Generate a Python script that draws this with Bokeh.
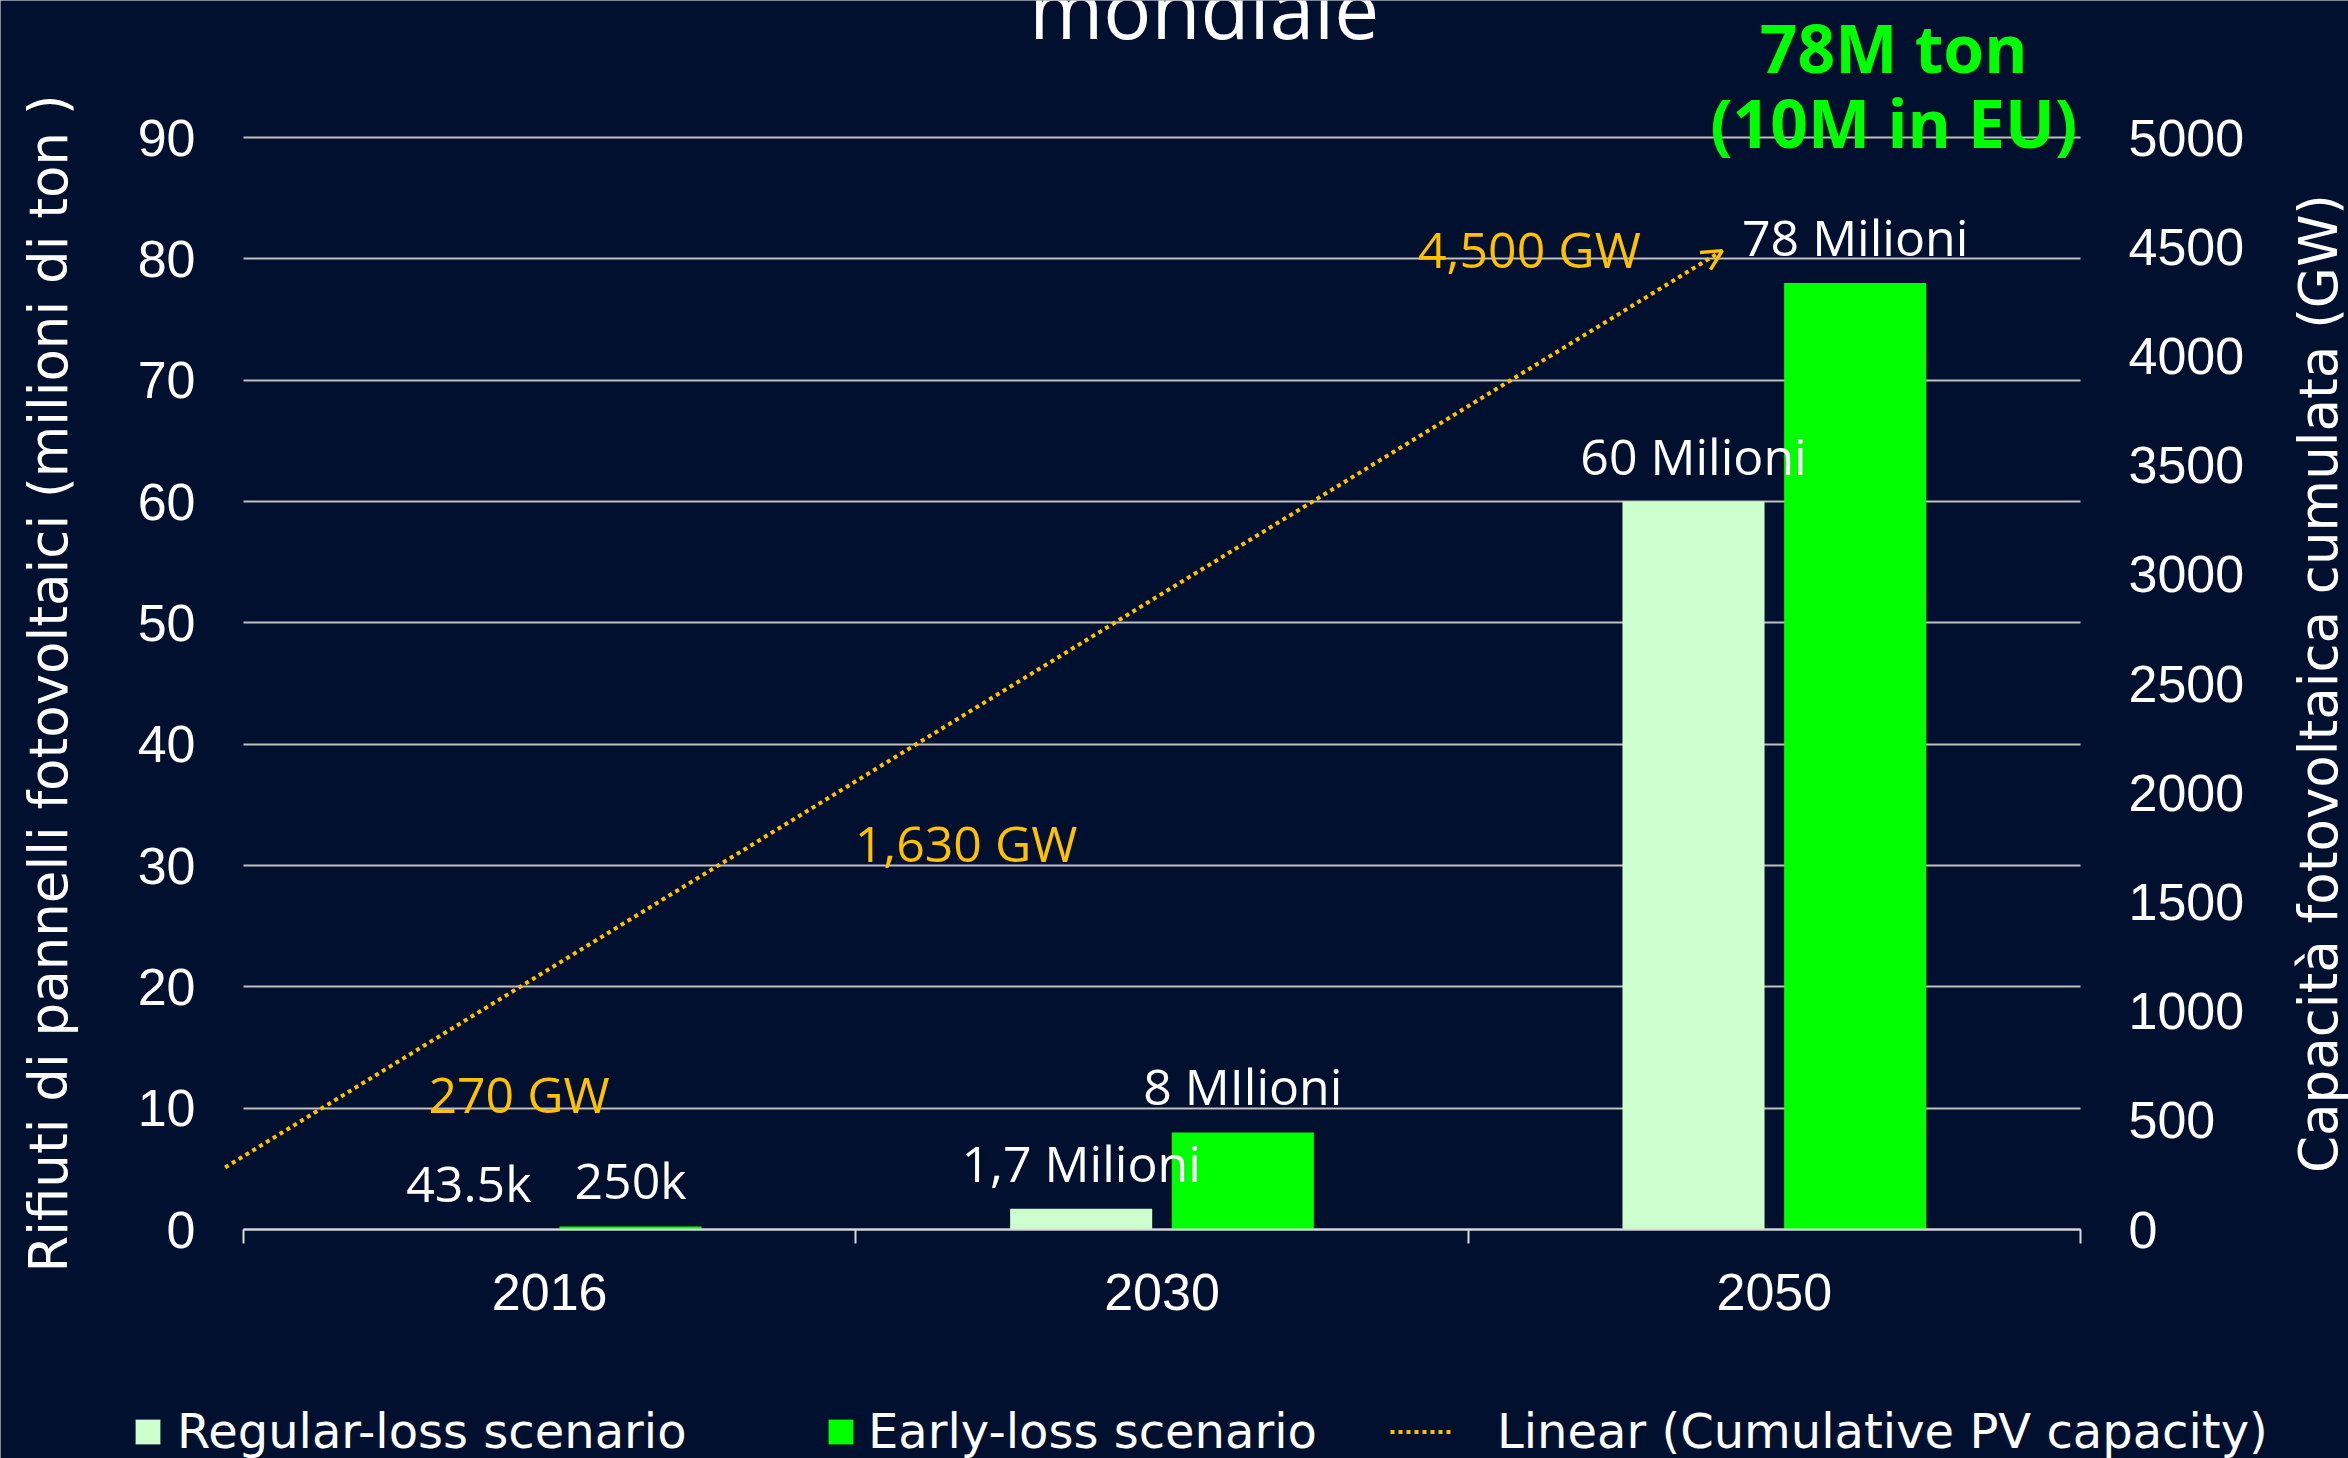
from bokeh.plotting import figure
from bokeh.models import (ColumnDataSource, Range1d, LinearAxis, FixedTicker, Label,
                          Arrow, OpenHead, Legend, LegendItem)
from bokeh.transform import dodge
from bokeh.core.properties import value
from bokeh.embed import file_html
from bokeh.resources import INLINE

# ---------------- data ----------------
years = ["2016", "2030", "2050"]
year_index = [0, 1, 2]
regular_loss_mt = [0.0435, 1.7, 60.0]      # million tonnes
early_loss_mt = [0.25, 8.0, 78.0]          # million tonnes
regular_labels = ["43.5k", "1,7 Milioni", "60 Milioni"]
early_labels = ["250k", "8 MIlioni", "78 Milioni"]
pv_capacity_gw = [270, 1630, 4500]
trend_x = [-0.53, 1.915]
trend_gw = [284, 4482]
left_ticks = [0, 10, 20, 30, 40, 50, 60, 70, 80, 90]
right_ticks = [0, 500, 1000, 1500, 2000, 2500, 3000, 3500, 4000, 4500, 5000]

# label placement (layout only)
pv_label_x = [-0.05, 0.68, 1.60]
pv_label_gw = [531, 1680, 4400]

BG = "#00102E"
REG = "#CCFFCC"
EARLY = "#00FF00"
ORANGE = "#FFC000"
GRID = "#BFBFBF"
AXIS = "#D9D9D9"

W, H = 2348, 1458
# plot area of the chart: x in [-0.5, 2.5] -> px 243..2080 ; y in [0, 90] -> px 1229..137
PX_PER_CAT = (2080 - 243) / 3.0
PX_PER_Y = (1229 - 137) / 90.0
x_min = -0.5 - 243 / PX_PER_CAT
x_max = 2.5 + (W - 2080) / PX_PER_CAT
y_max = 90 + 137 / PX_PER_Y
y_min = -(H - 1229) / PX_PER_Y
GW_PER_Y = 5000 / 90.0

p = figure(width=W, height=H, x_range=Range1d(x_min, x_max), y_range=Range1d(y_min, y_max),
           output_backend="svg", toolbar_location=None, title=None,
           min_border_left=0, min_border_right=0, min_border_top=0, min_border_bottom=0,
           background_fill_color=BG, border_fill_color=BG, outline_line_color=None)
p.extra_y_ranges = {"gw": Range1d(y_min * GW_PER_Y, y_max * GW_PER_Y)}

# x axis, pinned at y = 0
xa = p.xaxis[0]
xa.fixed_location = 0
xa.bounds = (-0.5, 2.5)
xa.ticker = FixedTicker(ticks=year_index, minor_ticks=[-0.5, 0.5, 1.5, 2.5])
xa.major_label_overrides = {i: y for i, y in zip(year_index, years)}
xa.major_tick_line_color = None
xa.major_tick_out = 0
xa.major_tick_in = 0
xa.minor_tick_line_color = AXIS
xa.minor_tick_line_width = 2
xa.minor_tick_out = 14
xa.minor_tick_in = 0
xa.axis_line_color = AXIS
xa.axis_line_width = 2
xa.major_label_text_font = "Liberation Sans"
xa.major_label_text_font_size = "52px"
xa.major_label_text_color = "white"
xa.major_label_standoff = 30

# left axis, pinned at x = -0.5
ya = p.yaxis[0]
ya.fixed_location = -0.5
ya.bounds = (0, 90)
ya.ticker = FixedTicker(ticks=left_ticks)
ya.axis_line_color = None
ya.major_tick_line_color = None
ya.minor_tick_line_color = None
ya.major_tick_out = 0
ya.major_tick_in = 0
ya.major_label_text_font = "Liberation Sans"
ya.major_label_text_font_size = "52px"
ya.major_label_text_color = "white"
ya.major_label_standoff = 48

# right axis, pinned at x = 2.5
ra = LinearAxis(y_range_name="gw", ticker=FixedTicker(ticks=right_ticks))
ra.fixed_location = 2.5
ra.bounds = (0, 5000)
ra.axis_line_color = None
ra.major_tick_line_color = None
ra.minor_tick_line_color = None
ra.major_tick_out = 0
ra.major_tick_in = 0
ra.major_label_text_font = "Liberation Sans"
ra.major_label_text_font_size = "52px"
ra.major_label_text_color = "white"
ra.major_label_standoff = 48
p.add_layout(ra, "right")

p.xgrid.visible = False
g = p.ygrid[0]
g.ticker = FixedTicker(ticks=left_ticks)
g.grid_line_color = GRID
g.grid_line_width = 2
if "cross_bounds" in g.properties():
    g.cross_bounds = (-0.5, 2.5)

src = ColumnDataSource(dict(idx=year_index, year=years, regular=regular_loss_mt,
                            early=early_loss_mt, reg_lab=regular_labels, early_lab=early_labels))

r_reg = p.vbar(x=dodge("idx", -0.132), top="regular", width=0.232, source=src,
               fill_color=REG, line_color=None)
r_early = p.vbar(x=dodge("idx", 0.132), top="early", width=0.232, source=src,
                 fill_color=EARLY, line_color=None)

lab_kw = dict(text_align="center", text_baseline="alphabetic", y_offset=-46,
              text_font=value("Open Sans"), text_font_size="50px", text_color="white")
p.text(x=dodge("idx", -0.132), y="regular", text="reg_lab", source=src, **lab_kw)
p.text(x=dodge("idx", 0.132), y="early", text="early_lab", source=src, **lab_kw)

# PV capacity labels
pv_src = ColumnDataSource(dict(x=pv_label_x, y=pv_label_gw,
                               txt=[f"{v:,} GW" for v in pv_capacity_gw]))
p.text(x="x", y="y", text="txt", source=pv_src, y_range_name="gw", y_offset=-20,
       text_align="center", text_baseline="alphabetic",
       text_font=value("Open Sans"), text_font_size="50px", text_color=ORANGE)

# linear trend of cumulative PV capacity
r_trend = p.line(x=trend_x, y=trend_gw, y_range_name="gw", line_color=ORANGE,
                 line_width=4, line_dash="4 4")
p.add_layout(Arrow(end=OpenHead(size=20, line_color=ORANGE, line_width=3.5),
                   x_start=trend_x[0], y_start=trend_gw[0],
                   x_end=trend_x[1], y_end=trend_gw[1], y_range_name="gw",
                   line_alpha=0))

# annotations
p.add_layout(Label(x=1.069, y=100.71, text="mondiale", text_align="center",
                   text_baseline="alphabetic", text_font="Open Sans",
                   text_font_size="80px", text_color="white"))
p.add_layout(Label(x=2.195, y=97.5, text="78M ton", text_align="center",
                   text_baseline="alphabetic", text_font="Open Sans", text_font_style="bold",
                   text_font_size="66px", text_color=EARLY))
p.add_layout(Label(x=2.195, y=91.3, text="(10M in EU)", text_align="center",
                   text_baseline="alphabetic", text_font="Open Sans", text_font_style="bold",
                   text_font_size="66px", text_color=EARLY))
p.add_layout(Label(x=-0.8185, y=45, text="Rifiuti di pannelli fotovoltaici (milioni di ton )",
                   angle=90, angle_units="deg", text_align="center", text_baseline="middle",
                   text_font="DejaVu Sans", text_font_size="53px", text_color="white"))
p.add_layout(Label(x=2.889, y=45, text="Capacità fotovoltaica cumulata (GW)", angle=90,
                   angle_units="deg", text_align="center", text_baseline="middle",
                   text_font="DejaVu Sans", text_font_size="53px", text_color="white"))


def mk_legend(label, renderer, vx, gw, standoff):
    return Legend(items=[LegendItem(label=label, renderers=[renderer])],
                  location=(vx, -1), orientation="horizontal",
                  glyph_width=gw, glyph_height=31, label_height=31,
                  label_standoff=standoff, padding=0, margin=0, spacing=0,
                  background_fill_alpha=0, border_line_alpha=0,
                  label_text_font="DejaVu Sans", label_text_font_size="48px",
                  label_text_color="white")


p.add_layout(mk_legend("Regular-loss scenario", r_reg, 132, 31, 14))
p.add_layout(mk_legend("Early-loss scenario", r_early, 825, 31, 12))
p.add_layout(mk_legend("Linear (Cumulative PV capacity)", r_trend, 1390, 64, 43))

open("out.html", "w").write(file_html(p, INLINE))
